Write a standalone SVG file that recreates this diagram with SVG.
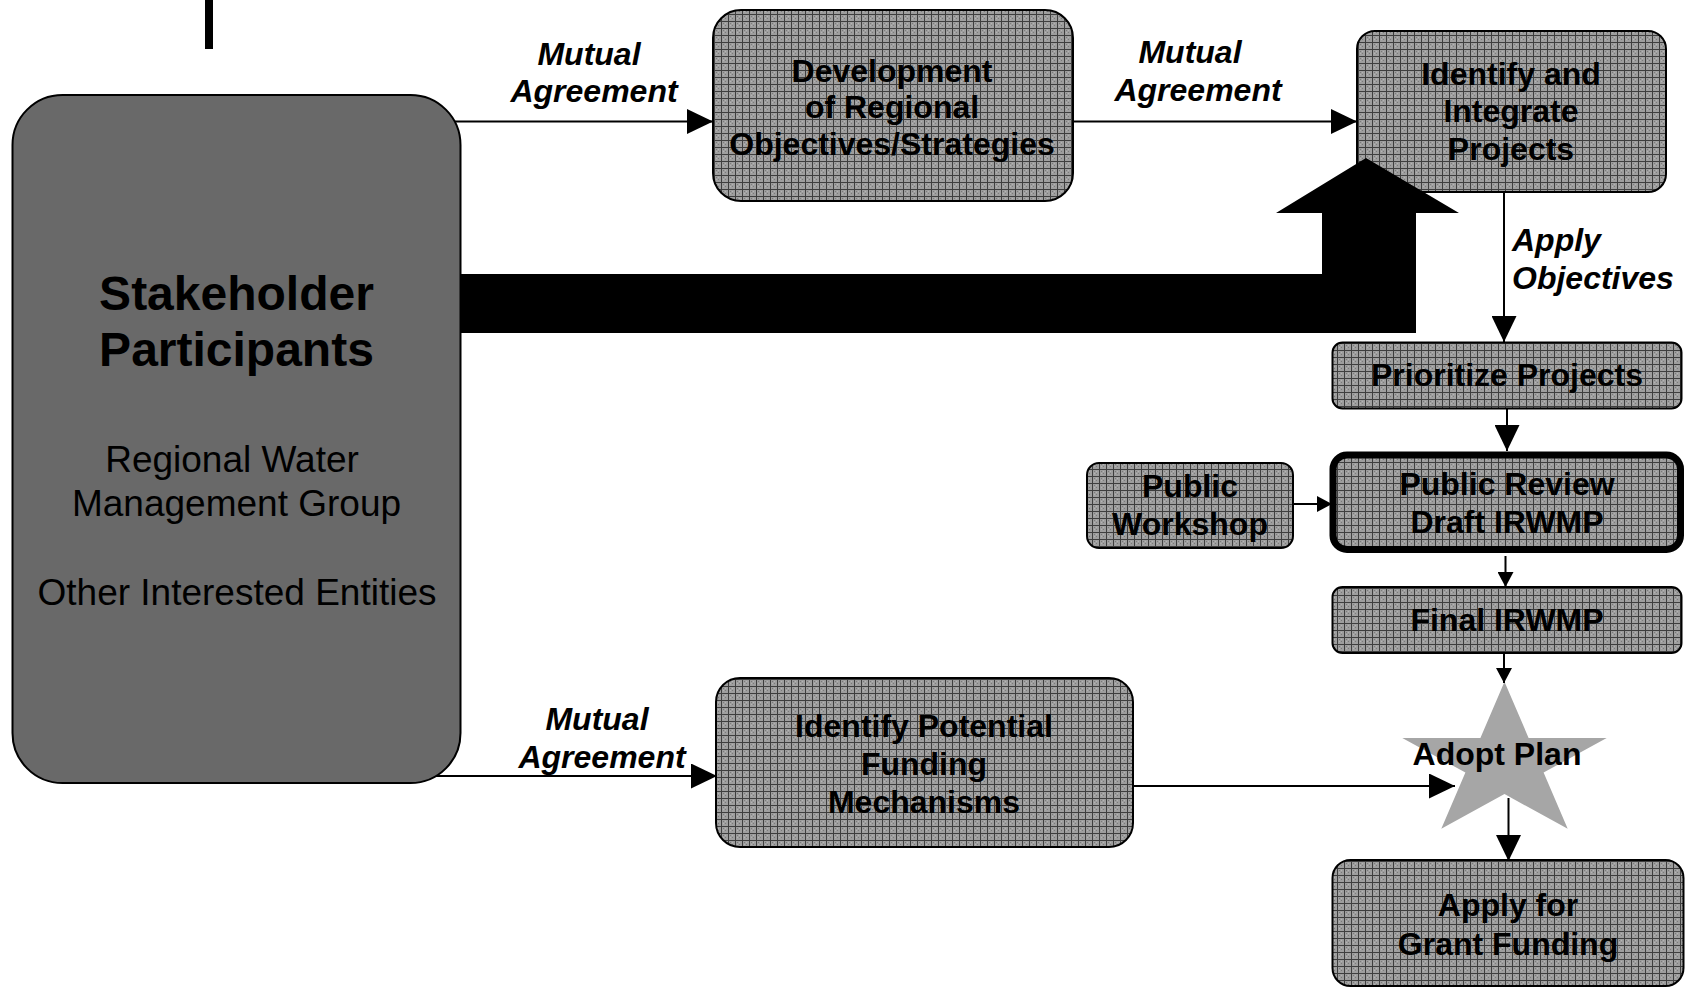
<svg xmlns="http://www.w3.org/2000/svg" width="1685" height="989" viewBox="0 0 1685 989">
<style>
text{font-family:"Liberation Sans",Arial,sans-serif;fill:#000;}
.nb{fill:url(#hatch);stroke:#000;stroke-width:2;}
.t{font-size:32px;font-weight:bold;text-anchor:middle;}
.lab{font-size:32px;font-weight:bold;font-style:italic;text-anchor:middle;}
.big{font-size:48px;font-weight:bold;text-anchor:middle;}
.reg{font-size:37px;text-anchor:middle;}
.ln{stroke:#000;stroke-width:2;fill:none;}
</style>
<defs>
<pattern id="hatch" width="7" height="7" patternUnits="userSpaceOnUse">
<rect width="7" height="7" fill="#9e9e9e"/>
<rect x="2" y="2" width="1" height="1" fill="#7a7a7a"/>
<rect x="4" y="4" width="1" height="1" fill="#7a7a7a"/>
<rect x="2" y="4" width="1" height="1" fill="#b4b4b4"/>
<rect x="4" y="2" width="1" height="1" fill="#b4b4b4"/>
<rect x="0" y="0" width="1" height="7" fill="#3e3e3e"/>
<rect x="0" y="0" width="7" height="1" fill="#3e3e3e"/>
</pattern>
<marker id="aL" viewBox="0 0 26 25" refX="26" refY="12.5" markerWidth="26" markerHeight="25" orient="auto" markerUnits="userSpaceOnUse"><path d="M0,0 L26,12.5 L0,25 z" fill="#000"/></marker>
<marker id="aS" viewBox="0 0 15 16" refX="15" refY="8" markerWidth="15" markerHeight="16" orient="auto" markerUnits="userSpaceOnUse"><path d="M0,0 L15,8 L0,16 z" fill="#000"/></marker>
</defs>
<rect width="1685" height="989" fill="#fff"/>
<rect x="205" y="0" width="8" height="49" fill="#000"/>

<g id="stakeholders">
<rect x="12.5" y="95" width="448" height="688" rx="50" fill="#696969" stroke="#000" stroke-width="2"/>
<text class="big" x="236.5" y="310">Stakeholder</text>
<text class="big" x="236.5" y="366">Participants</text>
<text class="reg" x="232" y="472">Regional Water</text>
<text class="reg" x="236.5" y="516">Management Group</text>
<text class="reg" x="237" y="605">Other Interested Entities</text>
</g>

<g id="development">
<rect class="nb" x="713" y="10" width="360" height="191" rx="28"/>
<text class="t" x="892" y="82">Development</text>
<text class="t" x="892" y="118">of Regional</text>
<text class="t" x="892" y="155">Objectives/Strategies</text>
</g>

<g id="identify">
<rect class="nb" x="1357" y="31" width="309" height="161" rx="18"/>
<text class="t" x="1511" y="85">Identify and</text>
<text class="t" x="1511" y="122">Integrate</text>
<text class="t" x="1511" y="160">Projects</text>
</g>

<g id="prioritize">
<rect class="nb" x="1332.5" y="342.5" width="349" height="66" rx="10"/>
<text class="t" x="1507" y="386">Prioritize Projects</text>
</g>

<g id="workshop">
<rect class="nb" x="1087" y="463" width="206" height="85" rx="12"/>
<text class="t" x="1190" y="497">Public</text>
<text class="t" x="1190" y="535">Workshop</text>
</g>

<g id="review">
<rect x="1333" y="455" width="347.5" height="94.5" rx="14" fill="url(#hatch)" stroke="#000" stroke-width="7"/>
<text class="t" x="1507" y="495">Public Review</text>
<text class="t" x="1507" y="533">Draft IRWMP</text>
</g>

<g id="final">
<rect class="nb" x="1332.5" y="587" width="349" height="66" rx="10"/>
<text class="t" x="1507" y="631">Final IRWMP</text>
</g>

<g id="funding">
<rect class="nb" x="716" y="678" width="417" height="169" rx="24"/>
<text class="t" x="924" y="737">Identify Potential</text>
<text class="t" x="924" y="775">Funding</text>
<text class="t" x="924" y="813">Mechanisms</text>
</g>

<g id="adopt">
<polygon points="1504.5,681.7 1528.6,737.9 1606.7,737.9 1543.6,772.6 1567.7,828.8 1504.5,794.1 1441.3,828.8 1465.4,772.6 1402.3,737.9 1480.4,737.9" fill="#a6a6a6"/>
<text class="t" x="1497" y="765">Adopt Plan</text>
</g>

<g id="grant">
<rect class="nb" x="1332.5" y="860" width="351" height="126" rx="18"/>
<text class="t" x="1508" y="916">Apply for</text>
<text class="t" x="1508" y="955">Grant Funding</text>
</g>

<g id="connectors">
<path class="ln" d="M455,121.5 H713" marker-end="url(#aL)"/>
<path class="ln" d="M1073,121.5 H1357" marker-end="url(#aL)"/>
<path class="ln" d="M1504,192 V342" marker-end="url(#aL)"/>
<path class="ln" d="M1507,409 V451" marker-end="url(#aL)"/>
<path class="ln" d="M1293,504 H1332" marker-end="url(#aS)"/>
<path class="ln" d="M1505.5,556 V587" marker-end="url(#aS)"/>
<path class="ln" d="M1504,653 V683" marker-end="url(#aS)"/>
<path class="ln" d="M1133,786 H1455" marker-end="url(#aL)"/>
<path class="ln" d="M1508.5,798 V861" marker-end="url(#aL)"/>
<path class="ln" d="M436,776 H717" marker-end="url(#aL)"/>
<polygon points="461,274 1322,274 1322,213 1276,213 1366,158 1459,213 1416,213 1416,333 461,333" fill="#000"/>
<text class="lab" x="589" y="65">Mutual</text>
<text class="lab" x="594" y="102">Agreement</text>
<text class="lab" x="1190" y="63">Mutual</text>
<text class="lab" x="1198" y="101">Agreement</text>
<text class="lab" x="597" y="730">Mutual</text>
<text class="lab" x="602" y="768">Agreement</text>
<text class="lab" x="1512" y="251" style="text-anchor:start">Apply</text>
<text class="lab" x="1512" y="289" style="text-anchor:start">Objectives</text>
</g>
</svg>
